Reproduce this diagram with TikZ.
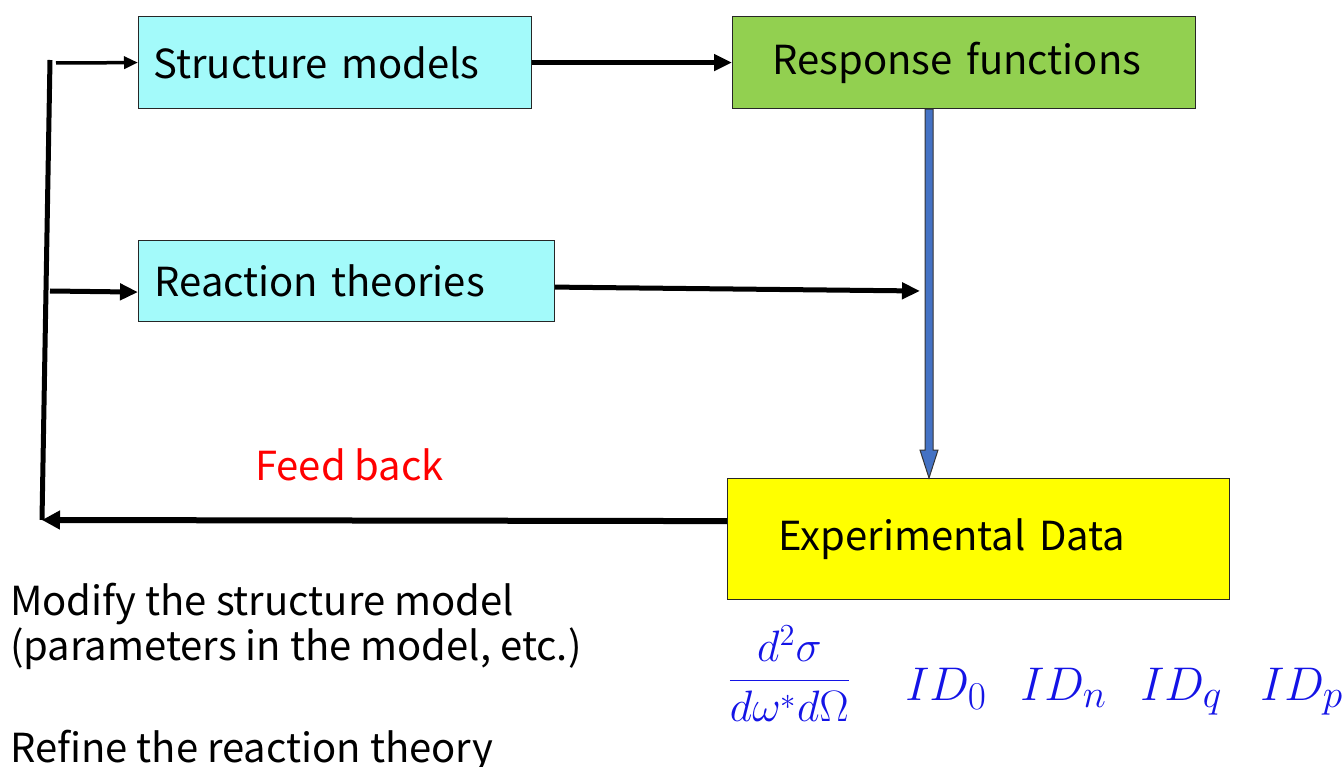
\documentclass[tikz,border=0pt]{standalone}
\usepackage{fontspec}
\setmainfont{Noto Sans CJK JP}
\usetikzlibrary{arrows.meta,calc}
\definecolor{boxcyan}{RGB}{163,250,250}
\definecolor{boxgreen}{RGB}{146,208,80}
\definecolor{boxyellow}{RGB}{255,255,0}
\definecolor{arrowblue}{RGB}{68,114,196}
\definecolor{mathblue}{RGB}{20,20,230}
\begin{document}
\begin{tikzpicture}[x=1pt,y=-1pt,
  box/.style={draw=black!85,line width=1.2pt,anchor=north west,align=left,
    font=\fontsize{40}{46}\selectfont,inner ysep=0pt},
  conn/.style={line width=5pt,-{Triangle[length=18pt,width=16pt]}},
  lbl/.style={font=\fontsize{40}{46}\selectfont,anchor=base west,inner sep=0pt},
  mathlbl/.style={text=mathblue,anchor=base west,inner sep=0pt,font=\Huge,scale=1.9}]
\useasboundingbox (0,0) rectangle (1344,767);
\node[box,fill=boxcyan,inner xsep=15pt,text width=363pt,minimum height=92pt] (struct) at (138,16) {Structure models};
\node[box,fill=boxgreen,inner xsep=40pt,text width=383pt,minimum height=92pt] (resp) at (732,16) {Response functions};
\node[box,fill=boxcyan,inner xsep=16pt,text width=384pt,minimum height=81pt] (react) at (138,240) {Reaction theories};
\node[box,fill=boxyellow,inner xsep=51pt,text width=400pt,minimum height=121pt] (exp) at (727,478) {Experimental Data};

\coordinate (ltop) at (50,60);
\coordinate (lbot) at (42,520);
\coordinate (rend) at (920,291);
\coordinate (bt) at ($(resp.south west)+(197,0)$);
\coordinate (bb) at (bt |- exp.north);

% left trunk
\draw[line width=5pt] (ltop) -- (lbot);
\draw[line width=3.5pt,-{Triangle[length=14pt,width=12pt]}] ($(ltop)+(6,3)$) -- (struct.west);
\draw[conn] ($(ltop)+(0,231)$) -- ($(react.west)+(0,11)$);
\draw[conn] (struct.east) -- (resp.west);
\draw[conn] ($(react.east)+(0,6)$) -- (rend);
\draw[line width=6pt,-{Triangle[length=18pt,width=18pt]}] ($(exp.west)+(0,-18)$) -- (lbot);

% blue arrow
\draw[fill=arrowblue,draw=black!80,line width=1pt]
  ($(bt)+(-4,0)$) -- ($(bb)+(-4,-28)$) -- ($(bb)+(-9,-28)$) -- (bb)
  -- ($(bb)+(9,-28)$) -- ($(bb)+(4,-28)$) -- ($(bt)+(4,0)$) -- cycle;

\node[lbl,text=red] (fb) at (255,480) {Feed back};
\node[lbl] (m1) at (10,615) {Modify the structure model};
\node[lbl] (m2) at (10,660) {(parameters in the model, etc.)};
\node[lbl] (m3) at (10,762) {Refine the reaction theory};

\node[text=mathblue,anchor=west,inner sep=0pt,font=\huge,scale=2.12] (frac) at (727,674) {$\displaystyle\frac{d^2\sigma}{d\omega^* d\Omega}$};
\node[mathlbl] (id0) at (905,700) {$ID_0$};
\node[mathlbl] (idn) at (1020,700) {$ID_n$};
\node[mathlbl] (idq) at (1140,700) {$ID_q$};
\node[mathlbl] (idp) at (1260,700) {$ID_p$};
\end{tikzpicture}
\end{document}
